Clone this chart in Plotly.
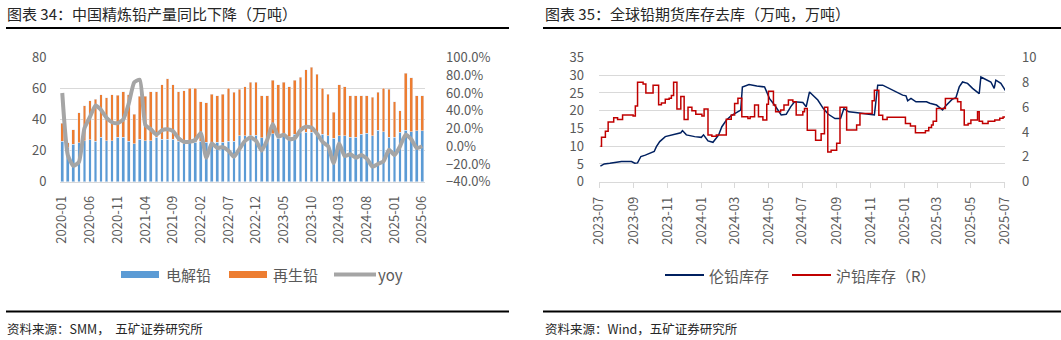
import plotly.graph_objects as go

W, H = 1061, 340
FONT = "Noto Sans CJK SC, Noto Sans, sans-serif"
GREY = "#595959"
GRID = "#D9D9D9"

# ---------------- left chart data (万吨 / %) ----------------
months = [f"{y}-{m:02d}" for y in range(2020, 2026) for m in range(1, 13)][:66]
month_ticks = months[::5]

electrolytic = [26, 22, 24, 25, 26.5, 27, 26, 28.5, 26.5, 26.5, 28.5, 28.5,
                26, 24.5, 27.5, 26.5, 26.5, 28.5, 27.5, 27.5, 27.5, 26,
                24.5, 25.5, 25.5, 26, 25.5, 25.5, 25.5, 25.5, 26.2, 26.2,
                29.5, 29.5, 30, 30, 28.4, 28.4, 31, 28, 30, 29,
                30.5, 32, 31.8, 31.8, 31.8, 30.5, 29.5, 28, 29.5, 29.5,
                28.6, 28.6, 30.5, 31.2, 29.5, 33.3, 32.3, 28.6, 28.6, 31.8,
                33.3, 32.3, 32.9, 32.9]
recycled = [11.5, 3, 9.5, 19.5, 22.5, 25, 27, 27.5, 27.5, 29.5, 27.3, 29.3,
            30, 19, 27.5, 28.5, 31.3, 29.3, 35, 38.7, 35, 31.8,
            34, 34.7, 34.7, 25.6, 25.5, 30.8, 30, 30.8, 34, 31.4,
            30.1, 31.8, 34, 34, 27.1, 27.1, 34.4, 34.4, 34, 32.3,
            34.9, 35.3, 40.2, 41.9, 37.4, 29.7, 26.8, 16.7, 32.9, 31.8,
            26.9, 26.9, 25, 24.3, 24.9, 24.3, 27.9, 31, 23, 14,
            36.6, 34.8, 22.6, 22.6]
yoy = [60, -10, -22, -18, 20, 33, 46, 41, 32, 27, 26, 30,
       48, 72, 75, 24, 19, 13, 18, 19, 17, 9,
       5, 5, 7, 15, -13, 3, -2, -1, -5, -12,
       -3, 6, 10, 6, -5, 7, 25, 11, 13, 8,
       9, 18, 22, 21, 14, 5, 0, -19, 3, -11,
       -9, -13, -10, -14, -23, -20, -17, -4, -10, 0,
       13, 8, -2, 0]

# ---------------- right chart data (万吨) ----------------
lme_dates = ["2023-07-03", "2023-07-10", "2023-07-20", "2023-07-30", "2023-08-10", "2023-08-28",
             "2023-09-03", "2023-09-08", "2023-09-14", "2023-09-22", "2023-10-01", "2023-10-08",
             "2023-10-12", "2023-10-18", "2023-10-28", "2023-11-13", "2023-11-25", "2023-11-28",
             "2023-12-05", "2023-12-20", "2024-01-01", "2024-01-05", "2024-01-13", "2024-01-22",
             "2024-02-01", "2024-02-07", "2024-02-15", "2024-02-24", "2024-03-03", "2024-03-12",
             "2024-03-15", "2024-03-27", "2024-04-10", "2024-04-24", "2024-05-03", "2024-05-12",
             "2024-05-24", "2024-06-02", "2024-06-10", "2024-06-17", "2024-07-02", "2024-07-08",
             "2024-07-14", "2024-07-20", "2024-07-29", "2024-08-08", "2024-08-17", "2024-08-29",
             "2024-09-08", "2024-09-14", "2024-09-23", "2024-10-05", "2024-10-20", "2024-10-29",
             "2024-11-08", "2024-11-14", "2024-11-23", "2024-12-05", "2024-12-17", "2024-12-29",
             "2025-01-04", "2025-01-07", "2025-01-13", "2025-01-22", "2025-02-10", "2025-02-16",
             "2025-02-28", "2025-03-07", "2025-03-11", "2025-03-16", "2025-03-28", "2025-04-04",
             "2025-04-10", "2025-04-16", "2025-04-25", "2025-05-04", "2025-05-13", "2025-05-16",
             "2025-05-19", "2025-05-28", "2025-06-06", "2025-06-12", "2025-06-15", "2025-06-24",
             "2025-07-03"]
lme_stock = [4.4, 5.0, 5.2, 5.5, 5.7, 5.7,
             5.2, 5.3, 7.1, 7.5, 8.1, 8.5,
             9.9, 11.3, 12.7, 13.4, 13.8, 14.4,
             13.2, 12.7, 12.5, 13.2, 11.5, 11.1,
             13.1, 15.5, 17.3, 18.6, 19.3, 20.2,
             26.7, 27.4, 27.0, 26.7, 23.4, 21.6,
             18.8, 19.0, 21.1, 22.5, 22.3, 21.1,
             25.3, 24.4, 23.0, 20.6, 19.0, 17.8,
             17.8, 20.6, 19.7, 19.5, 19.3, 19.0,
             18.8, 27.2, 27.2, 26.3, 25.3, 24.4,
             24.2, 22.8, 23.5, 22.5, 22.5, 22.1,
             21.6, 20.6, 20.2, 21.3, 23.2, 23.7,
             26.7, 28.1, 27.7, 26.3, 25.3, 24.8,
             29.5, 28.7, 28.1, 26.3, 28.6, 27.7,
             25.5]

shfe_dates = ["2023-07-03", "2023-07-05", "2023-07-12", "2023-07-17", "2023-07-27", "2023-08-03",
              "2023-08-12", "2023-08-31", "2023-09-04", "2023-09-08", "2023-09-18", "2023-09-23",
              "2023-10-06", "2023-10-16", "2023-10-21", "2023-10-28", "2023-11-04", "2023-11-08",
              "2023-11-12", "2023-11-18", "2023-11-25", "2023-12-01", "2023-12-08", "2023-12-15",
              "2023-12-22", "2024-01-02", "2024-01-06", "2024-01-13", "2024-01-20", "2024-01-28",
              "2024-02-15", "2024-02-24", "2024-03-01", "2024-03-07", "2024-03-14", "2024-03-25",
              "2024-03-29", "2024-04-06", "2024-04-13", "2024-04-21", "2024-04-28", "2024-05-01",
              "2024-05-10", "2024-05-14", "2024-05-23", "2024-05-29", "2024-06-06", "2024-06-14",
              "2024-06-20", "2024-07-02", "2024-07-05", "2024-07-10", "2024-07-25", "2024-08-04",
              "2024-08-10", "2024-08-16", "2024-08-22", "2024-09-01", "2024-09-07", "2024-09-19",
              "2024-10-07", "2024-10-13", "2024-11-04", "2024-11-08", "2024-11-16", "2024-11-23",
              "2024-12-01", "2025-01-03", "2025-01-12", "2025-01-21", "2025-02-08", "2025-02-14",
              "2025-02-19", "2025-02-22", "2025-02-28", "2025-03-16", "2025-04-07", "2025-04-13",
              "2025-04-19", "2025-04-26", "2025-05-01", "2025-05-13", "2025-05-16", "2025-05-22",
              "2025-06-01", "2025-06-13", "2025-06-22", "2025-06-28", "2025-07-03"]
shfe_stock = [2.86, 3.57, 4.06, 4.8, 5.14, 5.0,
              5.37, 5.29, 6.09, 8.0, 7.86, 7.14,
              7.77, 6.2, 6.34, 6.63, 6.71, 6.94,
              8.0, 5.86, 6.86, 5.0, 6.0, 5.71,
              5.43, 5.29, 5.86, 3.77, 3.66, 3.77,
              5.03, 5.37, 6.29, 6.71, 5.23, 5.09,
              5.23, 6.17, 5.23, 4.97, 6.23, 7.29,
              6.17, 5.63, 5.77, 6.17, 6.57, 6.43,
              5.37, 5.63, 5.89, 4.14, 3.34, 3.86,
              6.0, 2.4, 2.54, 3.09, 6.0, 4.17,
              4.57, 5.49, 6.51, 7.37, 5.36, 5.0,
              5.18, 4.69, 4.49, 3.94, 4.11, 4.37,
              4.57, 4.86, 5.89, 6.69, 6.43, 5.77,
              4.57, 4.69, 4.97, 5.63, 4.86, 4.69,
              4.86, 4.97, 5.11, 5.2, 5.3]


def px(x):
    return x / W


def py(y):
    return 1 - y / H


Y_DOM = [py(181.7), py(57.5)]
L_DOM = [px(59.5), px(425)]
R_DOM = [px(599), px(1005)]

fig = go.Figure()

fig.add_trace(go.Bar(x=months, y=electrolytic, name="电解铅", marker_color="#5B9BD5",
                     xaxis="x", yaxis="y", showlegend=False))
fig.add_trace(go.Bar(x=months, y=recycled, name="再生铅", marker_color="#ED7D31",
                     xaxis="x", yaxis="y", showlegend=False))
fig.add_trace(go.Scatter(x=months, y=yoy, name="yoy", mode="lines",
                         line=dict(color="#A5A5A5", width=4, shape="spline", smoothing=0.5),
                         xaxis="x", yaxis="y2", showlegend=False))

fig.add_trace(go.Scatter(x=lme_dates, y=lme_stock, name="伦铅库存", mode="lines",
                         line=dict(color="#002060", width=1.5),
                         xaxis="x2", yaxis="y3", showlegend=False))
fig.add_trace(go.Scatter(x=shfe_dates, y=shfe_stock, name="沪铅库存（R）", mode="lines",
                         line=dict(color="#C00000", width=1.5, shape="hv"),
                         xaxis="x2", yaxis="y4", showlegend=False))

tickfont = dict(family=FONT, size=13, color=GREY)

fig.update_layout(
    width=W, height=H,
    margin=dict(l=0, r=0, t=0, b=0),
    paper_bgcolor="white", plot_bgcolor="white",
    barmode="stack", bargap=0.5,
    font=dict(family=FONT, color=GREY),
    xaxis=dict(domain=L_DOM, anchor="y", type="category", tickvals=month_ticks,
               tickangle=-90, tickfont=tickfont, showline=True, linecolor=GRID,
               ticks="", showgrid=False, ticklabelstandoff=8, automargin=False,
               range=[-0.5, 65.5]),
    yaxis=dict(domain=Y_DOM, anchor="x", range=[0, 80], dtick=20, tickfont=tickfont,
               showgrid=True, gridcolor=GRID, zeroline=False, ticks="",
               ticklabelstandoff=12, automargin=False),
    yaxis2=dict(overlaying="y", anchor="x", side="right", range=[-40, 100], dtick=20,
                tickformat=".1f", ticksuffix="%", tickfont=tickfont, showgrid=False,
                zeroline=False, ticks="", ticklabelstandoff=20, automargin=False),
    xaxis2=dict(domain=R_DOM, anchor="y3", type="date",
                range=["2023-06-30 12:00", "2025-07-01 12:00"],
                tick0="2023-07-01", dtick="M2", tickformat="%Y-%m", tickangle=-90,
                tickfont=tickfont, showline=True, linecolor=GRID, ticks="outside",
                ticklen=5, tickcolor=GRID, showgrid=False, ticklabelstandoff=4,
                automargin=False),
    yaxis3=dict(domain=Y_DOM, anchor="x2", range=[0, 35], dtick=5, tickfont=tickfont,
                showgrid=True, gridcolor=GRID, zeroline=False, ticks="",
                ticklabelstandoff=14, automargin=False),
    yaxis4=dict(overlaying="y3", anchor="x2", side="right", range=[0, 10], dtick=2,
                tickfont=tickfont, showgrid=False, zeroline=False, ticks="",
                ticklabelstandoff=16, automargin=False),
)

shapes = []
annotations = []


def rule(x0, x1, y):
    shapes.append(dict(type="line", xref="paper", yref="paper", x0=px(x0), x1=px(x1),
                       y0=py(y), y1=py(y), line=dict(color="#000000", width=2)))


def text(x, y, s, size, color):
    annotations.append(dict(xref="paper", yref="paper", x=px(x), y=py(y), text=s,
                            showarrow=False, xanchor="left", yanchor="middle",
                            font=dict(family=FONT, size=size, color=color)))


# titles, rules, sources
text(5, 14, "图表 34：中国精炼铅产量同比下降（万吨）", 15, "#262626")
text(543, 14, "图表 35：全球铅期货库存去库（万吨，万吨）", 15, "#262626")
rule(6, 509, 28)
rule(543, 1061, 28)
rule(6, 509, 311.5)
rule(543, 1061, 311.5)
text(5, 328, "资料来源：SMM，  五矿证券研究所", 12.5, "#262626")
text(543, 328, "资料来源：Wind，五矿证券研究所", 12.5, "#262626")

# left legend
shapes.append(dict(type="rect", xref="paper", yref="paper", x0=px(121), x1=px(159),
                   y0=py(278), y1=py(271), fillcolor="#5B9BD5", line=dict(width=0)))
text(164, 274.5, "电解铅", 15, GREY)
shapes.append(dict(type="rect", xref="paper", yref="paper", x0=px(229), x1=px(267),
                   y0=py(278), y1=py(271), fillcolor="#ED7D31", line=dict(width=0)))
text(271, 274.5, "再生铅", 15, GREY)
shapes.append(dict(type="line", xref="paper", yref="paper", x0=px(334), x1=px(376),
                   y0=py(274.5), y1=py(274.5), line=dict(color="#A5A5A5", width=4)))
text(376, 274.5, "yoy", 15, GREY)

# right legend
shapes.append(dict(type="line", xref="paper", yref="paper", x0=px(665), x1=px(704),
                   y0=py(275), y1=py(275), line=dict(color="#002060", width=2)))
text(707, 275, "伦铅库存", 15, GREY)
shapes.append(dict(type="line", xref="paper", yref="paper", x0=px(792), x1=px(831),
                   y0=py(275), y1=py(275), line=dict(color="#C00000", width=2)))
text(834, 275, "沪铅库存（R）", 15, GREY)

fig.update_layout(shapes=shapes, annotations=annotations)

fig.write_html("out.html")
